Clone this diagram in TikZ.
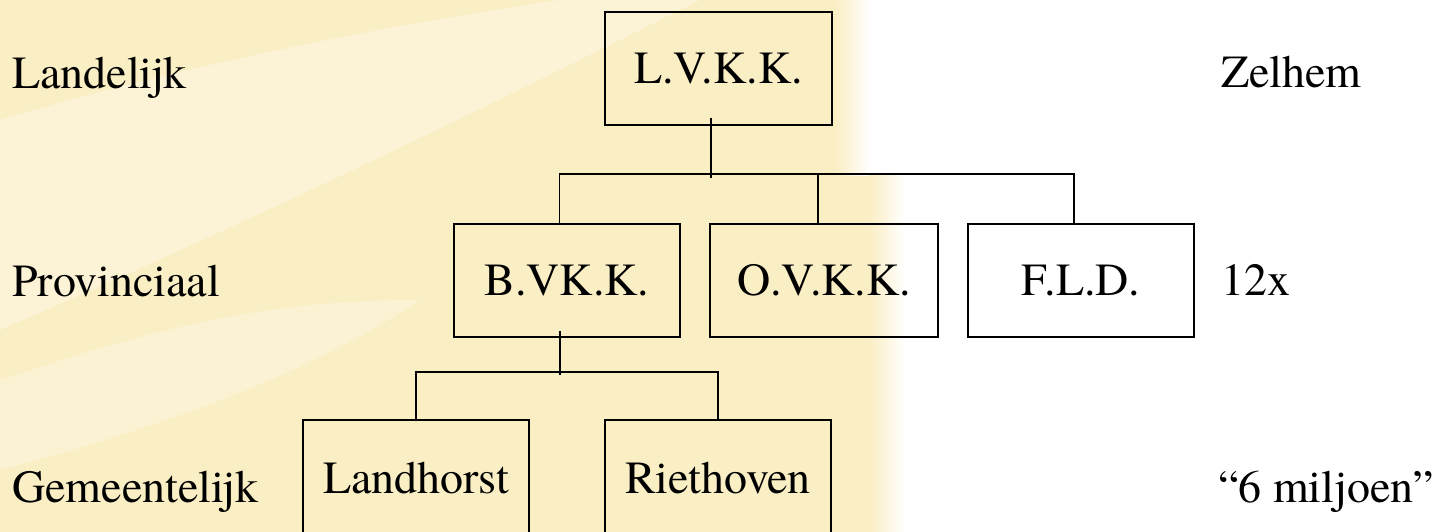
\documentclass[tikz,border=0pt]{standalone}
\usepackage{fontspec}
\IfFontExistsTF{EBGaramond-Regular.otf}{\setmainfont{EBGaramond-Regular.otf}}{\IfFontExistsTF{texgyretermes-regular.otf}{\setmainfont{texgyretermes-regular.otf}}{\setmainfont{DejaVu Serif}}}
\usetikzlibrary{calc}
\definecolor{bgy}{RGB}{250,238,196}
\definecolor{bgl}{RGB}{253,246,222}
\tikzset{
  orgbox/.style={draw=black, line width=1.8pt, minimum width=226pt, minimum height=113pt, inner sep=0pt,
    font=\rmfamily\fontsize{46}{52}\selectfont},
  lbl/.style={anchor=base west, inner sep=0pt, font=\rmfamily\fontsize{46}{52}\selectfont},
  conn/.style={draw=black, line width=1.8pt},
  thick conn/.style={draw=black, line width=2.8pt}
}
\begin{document}
\begin{tikzpicture}[x=1pt,y=-1pt]
\useasboundingbox (0,0) rectangle (1440,532);
% background
\fill[white] (0,0) rectangle (1440,532);
\fill[bgy] (0,0) -- (835,0) -- (850,165) -- (870,175) -- (870,532) -- (0,532) -- cycle;
\shade[left color=bgy, right color=white] (835,0) rectangle (870,175);
\shade[left color=bgy, right color=white] (869,175) rectangle (905,532);
\fill[bgl, opacity=0.7] (0,120) .. controls (200,60) and (420,20) .. (560,0) -- (700,0) .. controls (520,90) and (300,200) .. (0,330) -- cycle;
\fill[bgl, opacity=0.6] (0,380) .. controls (150,330) and (260,300) .. (420,300) .. controls (300,380) and (150,430) .. (0,470) -- cycle;

% boxes
\node[orgbox, minimum width=227pt] (lvkk) at (718.5,68.5) {L.V.K.K.};
\node[orgbox] (bvkk) at (567,280.5) {B.VK.K.};
\node[orgbox, minimum width=228pt] (ovkk) at (824,280.5) {O.V.K.K.};
\node[orgbox] (fld) at (1081,280.5) {F.L.D.};
\node[orgbox, minimum height=117pt] (landhorst) at (416,478.5) {Landhorst};
\node[orgbox, minimum height=117pt] (riethoven) at (718,478.5) {Riethoven};

% side labels
\node[lbl] (l1) at (12,89) {Landelijk};
\node[lbl] (l2) at (12,296) {Provinciaal};
\node[lbl] (l3) at (12,502) {Gemeentelijk};
\node[lbl] (r1) at (1221,88) {Zelhem};
\node[lbl] (r2) at (1221,295) {12x};
\node[lbl] (r3) at (1218,502) {“6 miljoen”};

% connectors top level
\coordinate (topbus) at (0,174);
\coordinate (lvkkstub) at ($(lvkk.south)+(-7.5,-8)$);
\coordinate (lvkkend) at ($(lvkk.south |- topbus)+(-7.5,4)$);
\draw[conn] (lvkkstub) -- (lvkkend);
\draw[conn] ($(bvkk.north)+(-7.5,0)$) -- ($(bvkk.north |- topbus)+(-7.5,0)$)
  -- ($(fld.north |- topbus)+(-7,0)$) -- ($(fld.north)+(-7,0)$);
\draw[conn] ($(ovkk.north)+(-6,0)$) -- ($(ovkk.north |- topbus)+(-6,0)$);

% connectors lower level
\coordinate (lowbus) at (0,372);
\coordinate (bvkkstub) at ($(bvkk.south)+(-7,-7)$);
\coordinate (bvkkend) at ($(bvkk.south |- lowbus)+(-7,3)$);
\draw[conn] (bvkkstub) -- (bvkkend);
\draw[thick conn] (landhorst.north) -- (landhorst.north |- lowbus) -- (riethoven.north |- lowbus) -- (riethoven.north);
\end{tikzpicture}
\end{document}
